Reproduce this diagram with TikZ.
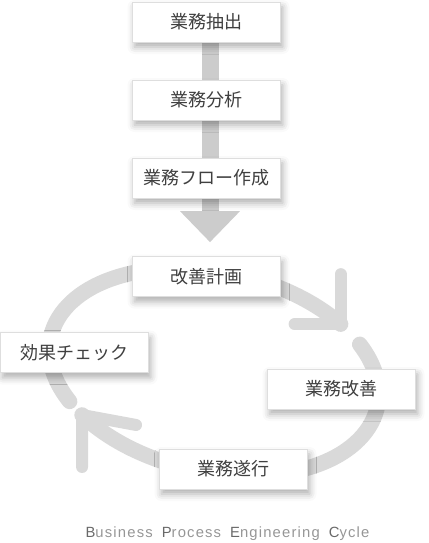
\documentclass[tikz,border=0pt]{standalone}
\usepackage{fontspec}
\newfontfamily\jpfont{Noto Sans CJK JP}
\newfontfamily\capfont[LetterSpace=8]{Liberation Sans}
\usetikzlibrary{arrows.meta,calc,shadows.blur,backgrounds}
\definecolor{boxT}{RGB}{64,64,64}
\definecolor{boxE}{RGB}{222,222,222}
\definecolor{ringG}{RGB}{217,217,217}
\definecolor{barG}{RGB}{204,204,204}
\definecolor{capD}{RGB}{105,105,105}
\definecolor{capL}{RGB}{150,150,150}

\begin{document}
\begin{tikzpicture}[x=1pt,y=1pt,
  stage/.style={draw=boxE,line width=0.6pt,fill=white,minimum width=148pt,minimum height=40pt,inner sep=0pt,
    font=\jpfont\fontsize{18}{21}\selectfont,text=boxT,
    blur shadow={shadow xshift=2.5pt,shadow yshift=-5pt,shadow blur radius=7pt,shadow opacity=32}},
  flowbar/.style={line width=17pt,barG},
  ring/.style={line width=15.5pt,ringG,line cap=round},
  chev/.style={line width=12pt,ringG,line cap=round,line join=round}]
\useasboundingbox (0,0) rectangle (428,-543);
\node[stage] (extract) at (206,-22) {業務抽出};
\node[stage] (analysis) at (206,-100) {業務分析};
\node[stage] (flow) at (206,-178) {業務フロー作成};
\node[stage] (plan) at (206,-276.5) {改善計画};
\node[stage] (check) at (74,-352.5) {効果チェック};
\node[stage] (improve) at (341,-389) {業務改善};
\node[stage] (execute) at (233,-469) {業務遂行};
\node[font=\capfont\fontsize{14.8}{17}\selectfont,text=capL,inner sep=0pt] (title) at (227.5,-534)
  {\textcolor{capD}{B}usiness\hspace{9pt}\textcolor{capD}{P}rocess\hspace{9pt}\textcolor{capD}{E}ngineering\hspace{9pt}\textcolor{capD}{C}ycle};
\begin{scope}[on background layer]
\draw[flowbar] ([xshift=4pt]extract.south) -- ([xshift=4pt]analysis.north);
\draw[flowbar] ([xshift=4pt]analysis.south) -- ([xshift=4pt]flow.north);
\draw[flowbar,-{Triangle[length=31pt,width=58pt]}] ([xshift=4pt]flow.south) -- ([xshift=4pt,yshift=14pt]plan.north);
\begin{scope}[shift={(214,-372)},rotate=-12]
\draw[ring] (216:167 and 100) arc[start angle=216,end angle=47,x radius=167,y radius=100] coordinate (tipA);
\draw[ring] (35:167 and 100) arc[start angle=35,end angle=-136,x radius=167,y radius=100] coordinate (tipB);
\end{scope}
\draw[chev] ([yshift=50pt]tipA) -- (tipA) -- ([xshift=-46pt]tipA);
\draw[chev] ([yshift=-52pt]tipB) -- (tipB) -- ([xshift=54pt,yshift=-10pt]tipB);
\end{scope}
\end{tikzpicture}
\end{document}
